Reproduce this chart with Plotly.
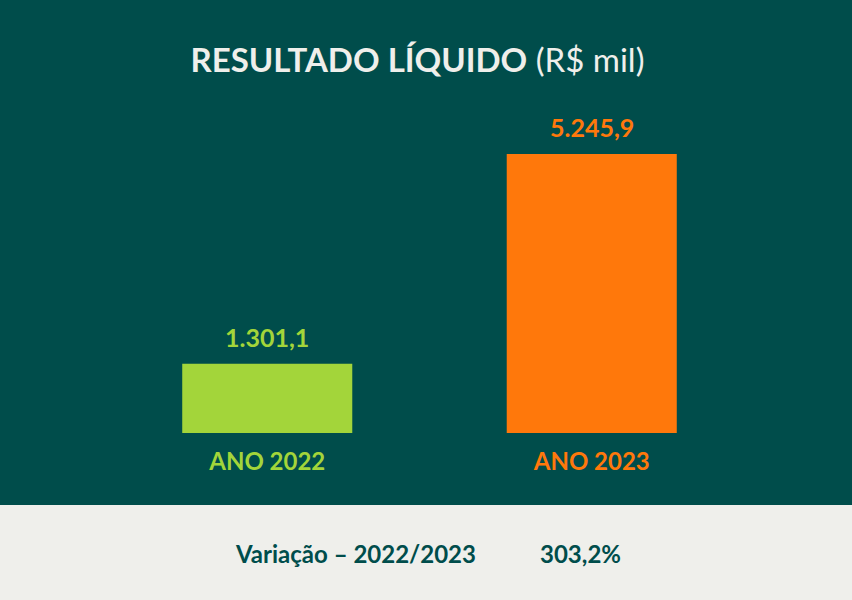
import plotly.graph_objects as go

categories = ["ANO 2022", "ANO 2023"]
values = [1301.1, 5245.9]
value_labels = ["1.301,1", "5.245,9"]
bar_colors = ["#A3D53A", "#FF780B"]
variation_label = "Variação – 2022/2023"
variation_value = "303,2%"

BG = "#004D4B"
FOOT = "#EFEFEB"

W, H = 852, 600
ml, mr, mt, mb = 105, 98, 100, 167
plot_w = W - ml - mr
plot_h = H - mt - mb
ymax = max(values) * plot_h / (433 - 154)

ticktext = [f"<span style='color:{c}'><b>{t}</b></span>" for t, c in zip(categories, bar_colors)]

fig = go.Figure(go.Bar(
    x=categories, y=values,
    marker=dict(color=bar_colors, line=dict(width=0)),
    width=0.524,
    cliponaxis=False,
    hoverinfo="skip",
))

for cat, val, lab, col in zip(categories, values, value_labels, bar_colors):
    fig.add_annotation(x=cat, y=val, text=f"<b>{lab}</b>", showarrow=False,
                       yshift=27, yanchor="middle", xanchor="center",
                       font=dict(size=25, color=col, family="Lato"))

footer_top = -(505 - 433) / plot_h
fig.add_shape(type="rect", xref="paper", yref="paper",
              x0=-ml / plot_w - 0.05, x1=1 + mr / plot_w + 0.05,
              y0=-(H - 433) / plot_h - 0.05, y1=footer_top,
              fillcolor=FOOT, line=dict(width=0), layer="below")

fig.add_annotation(xref="paper", yref="paper",
                   x=(355 - ml) / plot_w, y=-(553 - 433) / plot_h,
                   text=f"<b>{variation_label}</b>", showarrow=False,
                   font=dict(size=24, color=BG, family="Lato"),
                   xanchor="center", yanchor="middle")
fig.add_annotation(xref="paper", yref="paper",
                   x=(580 - ml) / plot_w, y=-(553 - 433) / plot_h,
                   text=f"<b>{variation_value}</b>", showarrow=False,
                   font=dict(size=24, color=BG, family="Lato"),
                   xanchor="center", yanchor="middle")

fig.update_layout(
    width=W, height=H,
    margin=dict(l=ml, r=mr, t=mt, b=mb),
    paper_bgcolor=BG, plot_bgcolor=BG,
    showlegend=False,
    title=dict(text="<b>RESULTADO LÍQUIDO</b> (R$ mil)", x=0.49, xanchor="center",
               y=1 - 60 / H, yanchor="middle",
               font=dict(size=33, color="#EFEFEB", family="Lato")),
    xaxis=dict(tickvals=categories, ticktext=ticktext, showgrid=False, zeroline=False,
               showline=False, ticks="", tickfont=dict(size=24, family="Lato"),
               ticklabelstandoff=12),
    yaxis=dict(range=[0, ymax], visible=False, showgrid=False, zeroline=False),
)

fig.write_html("out.html", config={"displayModeBar": False},
               post_script="document.body.style.margin='0';")
